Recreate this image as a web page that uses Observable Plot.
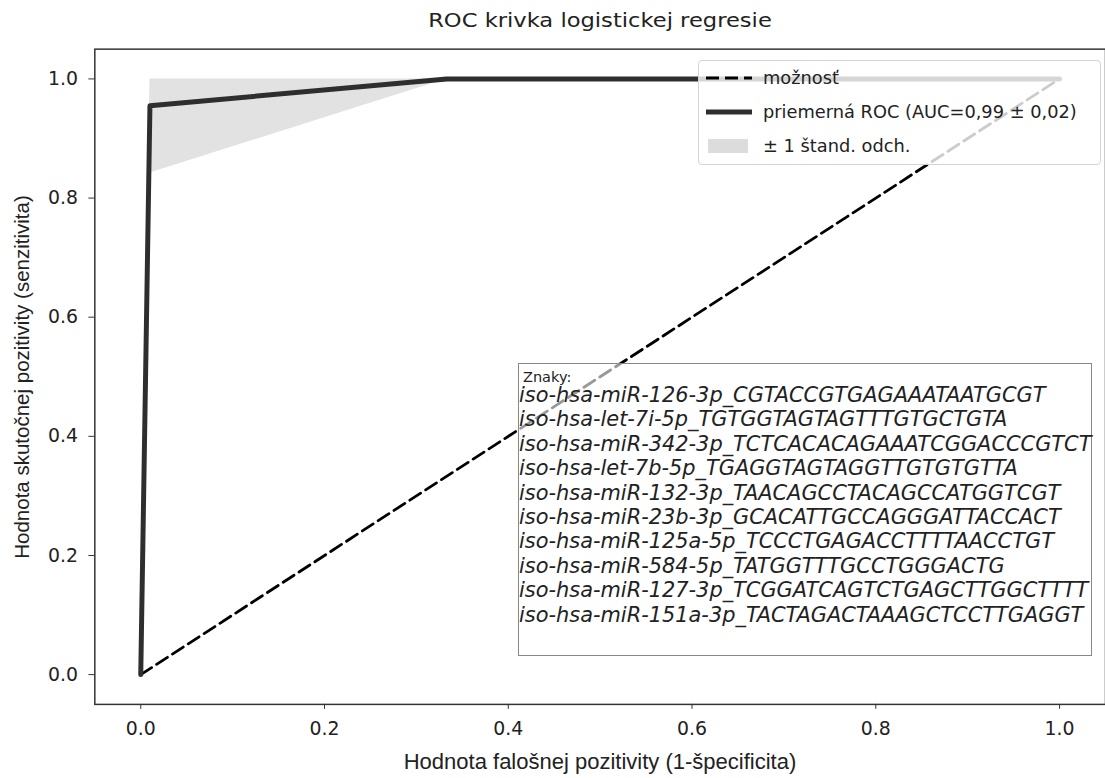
<!DOCTYPE html>
<html><head><meta charset="utf-8">
<script src="https://cdn.jsdelivr.net/npm/d3@7"></script>
<script src="https://cdn.jsdelivr.net/npm/@observablehq/plot@0.6"></script>
<style>
html,body{margin:0;padding:0;background:#fff;overflow:hidden;}
#wrap{position:relative;width:1105px;height:778px;overflow:hidden;background:#fff;}
#wrap svg.plot{position:absolute;left:0;top:0;}
.ov{position:absolute;white-space:nowrap;color:#222;}
#title{left:300px;width:600px;top:8px;text-align:center;font:20px "DejaVu Sans";transform:scaleX(1.13);}
#xlab{left:300px;width:600px;top:749px;text-align:center;font:22px "Liberation Sans";}
#ylab{left:22px;top:377px;transform:translate(-50%,-50%) rotate(-90deg);font:20.5px "Liberation Sans";}
#legend{left:698px;top:60px;width:401px;height:103px;border:1px solid #d4d4d4;border-radius:4px;background:rgba(255,255,255,0.8);}
#legend .row{position:absolute;left:0;height:24px;width:400px;}
#legend .row span{position:absolute;left:64px;top:1px;font:17.8px "DejaVu Sans";color:#222;}
#legend .row svg{position:absolute;left:5px;top:0;}
#znaky{left:518px;top:363px;width:572px;height:291px;border:1.5px solid #888;background:rgba(255,255,255,0.6);}
#znaky .hd{position:absolute;left:4px;top:6px;font:14.5px "DejaVu Sans";line-height:14px;}
#znaky .ln{position:absolute;left:0px;font:italic 20.9px "DejaVu Sans";line-height:21px;}
</style></head><body><div id="wrap"></div>
<script>
// ---- data ----
const fpr      = [0, 0.01, 0.333, 1];
const meanTpr  = [0, 0.955, 1, 1];
const tprUpper = [0, 1, 1, 1];
const tprLower = [0, 0.842, 1, 1];
const chanceX  = [0, 1];
const chanceY  = [0, 1];
const tickValues = [0, 0.2, 0.4, 0.6, 0.8, 1.0];
const titleText = "ROC krivka logistickej regresie";
const xLabel = "Hodnota falošnej pozitivity (1-špecificita)";
const yLabel = "Hodnota skutočnej pozitivity (senzitivita)";
const legendLabels = ["možnosť", "priemerná ROC (AUC=0,99 ± 0,02)", "± 1 štand. odch."];
const featureTitle = "Znaky:";
const features = [
  "iso-hsa-miR-126-3p_CGTACCGTGAGAAATAATGCGT",
  "iso-hsa-let-7i-5p_TGTGGTAGTAGTTTGTGCTGTA",
  "iso-hsa-miR-342-3p_TCTCACACAGAAATCGGACCCGTCT",
  "iso-hsa-let-7b-5p_TGAGGTAGTAGGTTGTGTGTTA",
  "iso-hsa-miR-132-3p_TAACAGCCTACAGCCATGGTCGT",
  "iso-hsa-miR-23b-3p_GCACATTGCCAGGGATTACCACT",
  "iso-hsa-miR-125a-5p_TCCCTGAGACCTTTTAACCTGT",
  "iso-hsa-miR-584-5p_TATGGTTTGCCTGGGACTG",
  "iso-hsa-miR-127-3p_TCGGATCAGTCTGAGCTTGGCTTTT",
  "iso-hsa-miR-151a-3p_TACTAGACTAAAGCTCCTTGAGGT"
];

// ---- tables ----
const roc = fpr.map((f, i) => ({fpr: f, tpr: meanTpr[i], lo: tprLower[i], hi: tprUpper[i]}));
const chance = chanceX.map((x, i) => ({x, y: chanceY[i]}));

const chart = Plot.plot({
  width: 1113, height: 778,
  marginLeft: 95, marginRight: 0, marginTop: 49, marginBottom: 69,
  style: {fontFamily: "DejaVu Sans", fontSize: "19px", color: "#222", background: "transparent"},
  x: {domain: [-0.05, 1.05], label: null},
  y: {domain: [-0.05, 1.05], label: null},
  marks: [
    Plot.areaY(roc, {x: "fpr", y1: "lo", y2: "hi", fill: "#e2e2e2", curve: "linear"}),
    Plot.line(chance, {x: "x", y: "y", stroke: "#000", strokeWidth: 2.8, strokeDasharray: "13,6"}),
    Plot.line(roc, {x: "fpr", y: "tpr", stroke: "#2e2e2e", strokeWidth: 5, strokeLinejoin: "round"}),
    Plot.axisX({ticks: tickValues, tickFormat: d => d.toFixed(1), tickSize: 5, tickPadding: 12, stroke: "#333", label: null}),
    Plot.axisY({ticks: tickValues, tickFormat: d => d.toFixed(1), tickSize: 6, tickPadding: 11, stroke: "#333", label: null}),
    Plot.frame({stroke: "#333", strokeWidth: 1.5})
  ]
});
chart.classList.add("plot");
const wrap = document.getElementById("wrap");
wrap.appendChild(chart);

function div(id, cls, text) {
  const d = document.createElement("div");
  if (id) d.id = id;
  d.className = cls;
  if (text != null) d.textContent = text;
  wrap.appendChild(d);
  return d;
}
div("title", "ov", titleText);
div("xlab", "ov", xLabel);
div("ylab", "ov", yLabel);

// legend
const leg = div("legend", "ov");
const rowTops = [5, 39, 73];
legendLabels.forEach((lab, i) => {
  const r = document.createElement("div");
  r.className = "row";
  r.style.top = rowTops[i] + "px";
  let handle;
  if (i === 0) handle = '<svg width="50" height="24"><line x1="2" y1="12" x2="48" y2="12" stroke="#000" stroke-width="2.8" stroke-dasharray="13,6"/></svg>';
  else if (i === 1) handle = '<svg width="50" height="24"><line x1="2" y1="12" x2="48" y2="12" stroke="#2e2e2e" stroke-width="5"/></svg>';
  else handle = '<svg width="50" height="24"><rect x="4" y="5" width="40" height="14" fill="#dcdcdc"/></svg>';
  r.innerHTML = handle;
  const s = document.createElement("span");
  s.textContent = lab;
  r.appendChild(s);
  leg.appendChild(r);
});

// features box
const zb = div("znaky", "ov");
const hd = document.createElement("div"); hd.className = "hd"; hd.textContent = featureTitle; zb.appendChild(hd);
features.forEach((f, i) => {
  const l = document.createElement("div");
  l.className = "ln";
  l.style.top = (21 + i * 24.4) + "px";
  l.textContent = f;
  zb.appendChild(l);
});
</script></body></html>
